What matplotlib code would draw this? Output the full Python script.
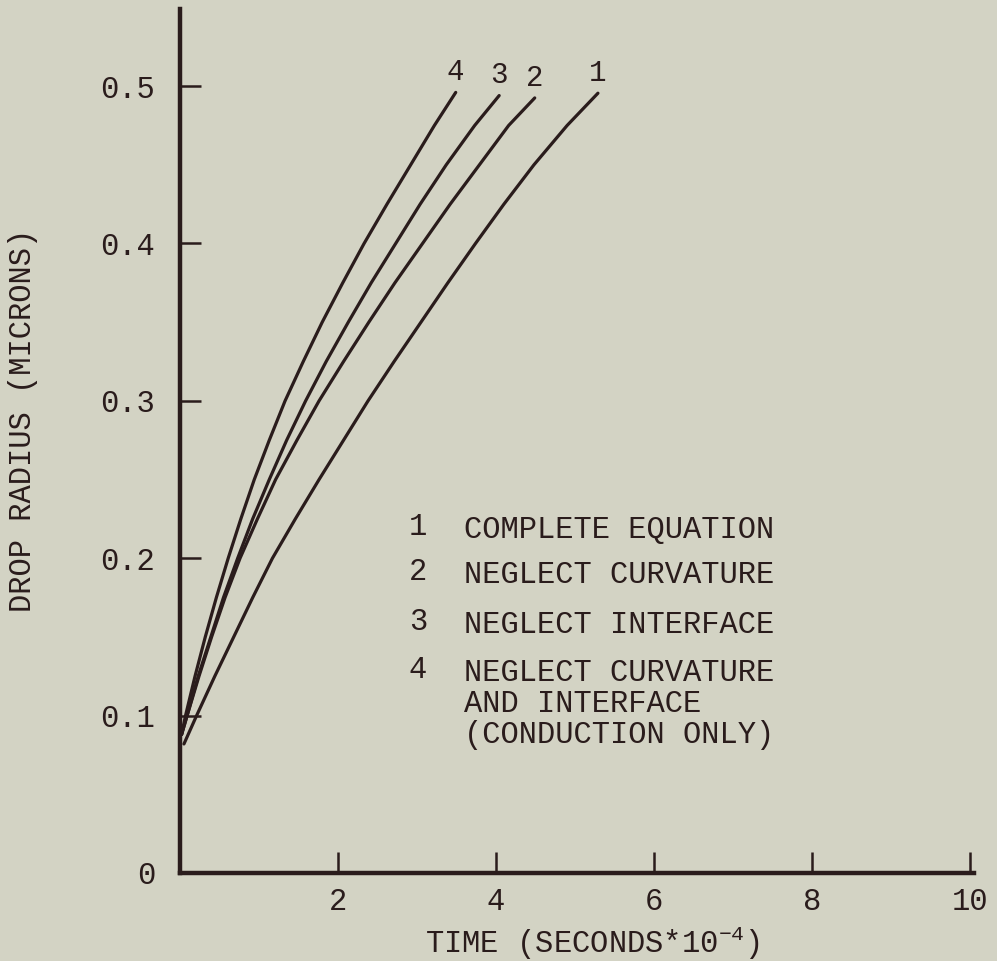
import matplotlib
matplotlib.use("Agg")
import matplotlib.pyplot as plt

# curve data (time in seconds*10^-4, radius in microns)
r1 = [0.082, 0.100, 0.125, 0.150, 0.175, 0.200, 0.225, 0.250, 0.275, 0.300,
      0.325, 0.350, 0.375, 0.400, 0.425, 0.450, 0.475, 0.4955]
t1 = [0.05, 0.21, 0.44, 0.68, 0.92, 1.17, 1.46, 1.76, 2.07, 2.38,
      2.71, 3.05, 3.39, 3.74, 4.10, 4.48, 4.90, 5.29]

r2 = [0.088, 0.100, 0.125, 0.150, 0.175, 0.200, 0.225, 0.250, 0.275, 0.300,
      0.325, 0.350, 0.375, 0.400, 0.425, 0.450, 0.475, 0.4925]
t2 = [0.02, 0.09, 0.24, 0.40, 0.57, 0.76, 0.98, 1.21, 1.48, 1.76,
      2.07, 2.39, 2.72, 3.07, 3.42, 3.79, 4.16, 4.49]

r3 = [0.088, 0.100, 0.125, 0.150, 0.175, 0.200, 0.225, 0.250, 0.275, 0.300,
      0.325, 0.350, 0.375, 0.400, 0.425, 0.450, 0.475, 0.494]
t3 = [0.02, 0.09, 0.23, 0.39, 0.55, 0.73, 0.92, 1.13, 1.35, 1.59,
      1.85, 2.13, 2.42, 2.73, 3.04, 3.37, 3.73, 4.04]

r4 = [0.088, 0.100, 0.125, 0.150, 0.175, 0.200, 0.225, 0.250, 0.275, 0.300,
      0.325, 0.350, 0.375, 0.400, 0.425, 0.450, 0.475, 0.496]
t4 = [0.02, 0.07, 0.19, 0.32, 0.46, 0.61, 0.77, 0.94, 1.13, 1.33,
      1.56, 1.80, 2.06, 2.33, 2.62, 2.92, 3.22, 3.49]

curve_ids = ["1", "2", "3", "4"]
legend_rows = ["COMPLETE EQUATION", "NEGLECT CURVATURE", "NEGLECT INTERFACE",
               "NEGLECT CURVATURE\nAND INTERFACE\n(CONDUCTION ONLY)"]

xticks = [2, 4, 6, 8, 10]
yticks = [0, 0.1, 0.2, 0.3, 0.4, 0.5]
ytick_labels = ["0", "0.1", "0.2", "0.3", "0.4", "0.5"]

ink = "#2a1c1c"
paper = "#d3d3c4"

plt.rcParams["font.family"] = ["Liberation Mono", "DejaVu Sans Mono"]
plt.rcParams["mathtext.fontset"] = "custom"
plt.rcParams["mathtext.rm"] = "Liberation Mono"
plt.rcParams["mathtext.it"] = "Liberation Mono"
plt.rcParams["text.color"] = ink

fig = plt.figure(figsize=(9.97, 9.61), dpi=100, facecolor=paper)
ax = fig.add_axes([180 / 997, 88 / 961, 794 / 997, 864 / 961])
ax.set_facecolor(paper)

curves = [(t1, r1), (t2, r2), (t3, r3), (t4, r4)]
for (t, r), cid in zip(curves, curve_ids):
    ax.plot(t, r, color=ink, lw=2.3, solid_capstyle="round", solid_joinstyle="round")
    # number just above the end of each curve
    ax.text(t[-1], r[-1] + 0.004, cid, fontsize=21, ha="center", va="bottom", color=ink)

ax.set_xlim(0, 10.05)
ax.set_ylim(0, 0.549)

for side in ["top", "right"]:
    ax.spines[side].set_visible(False)
for side in ["left", "bottom"]:
    ax.spines[side].set_linewidth(3.2)
    ax.spines[side].set_color(ink)

ax.set_xticks(xticks)
ax.set_xticklabels([str(v) for v in xticks])
ax.set_yticks(yticks)
ax.set_yticklabels(ytick_labels)
ax.tick_params(axis="both", direction="in", length=15, width=1.8, color=ink,
               labelsize=22, labelcolor=ink)
ax.tick_params(axis="y", pad=18)
ax.tick_params(axis="x", pad=10)

# legend block as plain text
row_y = [527, 572, 622, 670]
for cid, txt, yy in zip(curve_ids, legend_rows, row_y):
    fig.text(418 / 997, 1 - yy / 961, cid, fontsize=22, ha="center", va="center")
    fig.text(464 / 997, 1 - (yy - 12) / 961, txt, fontsize=22, ha="left", va="top",
             linespacing=1.05)

fig.text(592 / 997, 1 - 943 / 961, r"TIME (SECONDS*10$^{-4}$)", fontsize=22,
         ha="center", va="center")
fig.text(23 / 997, 1 - 420 / 961, "DROP RADIUS (MICRONS)", fontsize=22,
         ha="center", va="center", rotation=90)

fig.savefig("out.png", dpi=100, facecolor=paper)
